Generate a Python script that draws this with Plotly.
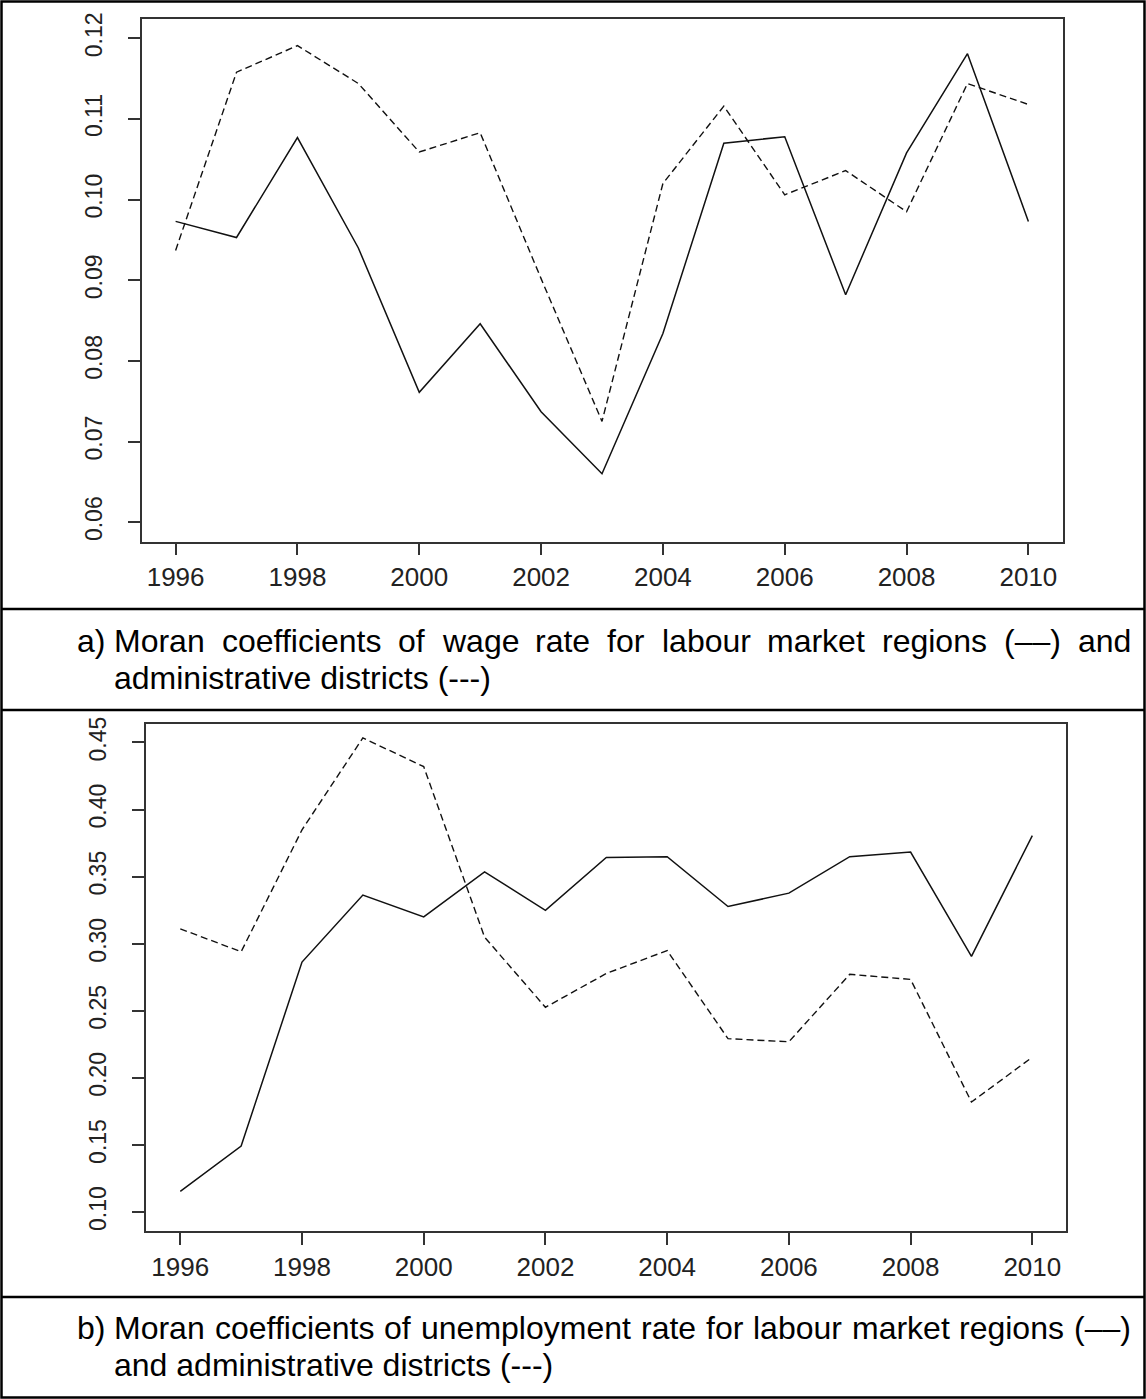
import plotly.graph_objects as go

# ---------------- data ----------------
years = [1996, 1997, 1998, 1999, 2000, 2001, 2002, 2003, 2004, 2005, 2006, 2007, 2008, 2009, 2010]

wage_lmr = [0.0973, 0.0953, 0.1077, 0.0940, 0.0761, 0.0846, 0.0737, 0.0660,
            0.0834, 0.1070, 0.1078, 0.0882, 0.1058, 0.1181, 0.0973]
wage_ad = [0.0937, 0.1158, 0.1191, 0.1144, 0.1059, 0.1083, 0.0902, 0.0725,
           0.1020, 0.1116, 0.1006, 0.1036, 0.0985, 0.1144, 0.1118]

unemp_lmr = [0.1154, 0.1492, 0.2863, 0.3363, 0.3200, 0.3535, 0.3249, 0.3643,
             0.3649, 0.3277, 0.3377, 0.3649, 0.3683, 0.2906, 0.3806]
unemp_ad = [0.3111, 0.2940, 0.3849, 0.4534, 0.4320, 0.3049, 0.2526, 0.2778,
            0.2949, 0.2292, 0.2269, 0.2772, 0.2734, 0.1820, 0.2154]

x_ticks = [1996, 1998, 2000, 2002, 2004, 2006, 2008, 2010]
x_ticktext = ["1996", "1998", "2000", "2002", "2004", "2006", "2008", "2010"]
ya_ticks = [0.06, 0.07, 0.08, 0.09, 0.10, 0.11, 0.12]
ya_ticktext = ["0.06", "0.07", "0.08", "0.09", "0.10", "0.11", "0.12"]
yb_ticks = [0.10, 0.15, 0.20, 0.25, 0.30, 0.35, 0.40, 0.45]
yb_ticktext = ["0.10", "0.15", "0.20", "0.25", "0.30", "0.35", "0.40", "0.45"]

caption_a1 = ["Moran", "coefficients", "of", "wage", "rate", "for", "labour",
              "market", "regions", "(\u2013\u2013)", "and"]
caption_a2 = "administrative districts (---)"
caption_b1 = ["Moran", "coefficients", "of", "unemployment", "rate", "for",
              "labour", "market", "regions", "(\u2013\u2013)"]
caption_b2 = "and administrative districts (---)"

# ---------------- geometry ----------------
W, H = 1146, 1399
def px(x):
    return x / W
def py(y):
    return 1 - y / H

FONT = "Arial, Liberation Sans, sans-serif"
INK = "#111111"

fig = go.Figure()

# panel a
fig.add_trace(go.Scatter(x=years, y=wage_lmr, mode="lines",
                         line=dict(color=INK, width=1.5), xaxis="x", yaxis="y",
                         showlegend=False))
fig.add_trace(go.Scatter(x=years, y=wage_ad, mode="lines",
                         line=dict(color=INK, width=1.4, dash="7px,4px"),
                         xaxis="x", yaxis="y", showlegend=False))
# panel b
fig.add_trace(go.Scatter(x=years, y=unemp_lmr, mode="lines",
                         line=dict(color=INK, width=1.5), xaxis="x2", yaxis="y2",
                         showlegend=False))
fig.add_trace(go.Scatter(x=years, y=unemp_ad, mode="lines",
                         line=dict(color=INK, width=1.4, dash="7px,4px"),
                         xaxis="x2", yaxis="y2", showlegend=False))

axis_common = dict(showgrid=False, zeroline=False, showline=True, mirror=True,
                   linecolor="#333333", linewidth=1.5, ticks="outside",
                   tickcolor="#333333", tickwidth=1.5, ticklen=12,
                   fixedrange=True, automargin=False)

xa = dict(axis_common, tickmode="array", tickvals=x_ticks, ticktext=x_ticktext,
          range=[1995.44, 2010.56],
          tickfont=dict(family=FONT, size=26, color="#222222"),
          ticklabelstandoff=0)

ya_font = dict(family=FONT, size=23, color="#222222")

fig.update_layout(
    width=W, height=H,
    margin=dict(l=0, r=0, t=0, b=0, pad=0, autoexpand=False),
    paper_bgcolor="white", plot_bgcolor="white",
    xaxis=dict(xa, domain=[px(141.5), px(1062.5)], anchor="y"),
    yaxis=dict(axis_common, domain=[py(541.5), py(19)], anchor="x",
               range=[0.0576, 0.1224], tickmode="array", tickvals=ya_ticks,
               ticktext=ya_ticktext, tickangle=-90, ticklabelstandoff=17,
               tickfont=ya_font),
    xaxis2=dict(xa, domain=[px(146.2), px(1066.4)], anchor="y2"),
    yaxis2=dict(axis_common, domain=[py(1230.8), py(723.7)], anchor="x2",
                range=[0.086, 0.464], tickmode="array", tickvals=yb_ticks,
                ticktext=yb_ticktext, tickangle=-90, ticklabelstandoff=17,
                tickfont=ya_font),
)

# ---------------- table borders ----------------
bw = 2.5
shapes = [
    dict(type="rect", xref="paper", yref="paper",
         x0=px(1.5), x1=px(1144.5), y0=py(1397.5), y1=py(1.5),
         line=dict(color="black", width=bw)),
]
for yy in [609, 710, 1297]:
    shapes.append(dict(type="line", xref="paper", yref="paper",
                       x0=px(1.5), x1=px(1144.5), y0=py(yy), y1=py(yy),
                       line=dict(color="black", width=bw)))
fig.update_layout(shapes=shapes)

# ---------------- captions (justified via Arial metrics) ----------------
ARIAL = {' ': 278, 'a': 556, 'b': 556, 'c': 500, 'd': 556, 'e': 556, 'f': 278,
         'g': 556, 'h': 556, 'i': 222, 'j': 222, 'k': 500, 'l': 222, 'm': 833,
         'n': 556, 'o': 556, 'p': 556, 'q': 556, 'r': 333, 's': 500, 't': 278,
         'u': 556, 'v': 500, 'w': 722, 'x': 500, 'y': 500, 'z': 500, 'M': 833,
         '(': 333, ')': 333, '\u2013': 556, '-': 333}
CAP = 32

def text_w(s):
    return sum(ARIAL.get(c, 556) for c in s) * CAP / 1000.0

anns = []
def add_text(x, y, s):
    anns.append(dict(x=px(x), y=py(y), xref="paper", yref="paper", text=s,
                     showarrow=False, xanchor="left", yanchor="middle",
                     font=dict(family=FONT, size=CAP, color="black"),
                     borderpad=0))

def justified(words, x0, x1, y):
    widths = [text_w(w) for w in words]
    gap = (x1 - x0 - sum(widths)) / (len(words) - 1)
    x = x0
    for w, wd in zip(words, widths):
        add_text(x, y, w)
        x += wd + gap

add_text(76, 641, "a)")
justified(caption_a1, 113, 1130, 641)
add_text(113, 678, caption_a2)

add_text(76, 1328, "b)")
justified(caption_b1, 113, 1130, 1328)
add_text(113, 1365, caption_b2)

fig.update_layout(annotations=anns)

post = (
    "var de=document.documentElement,b=document.body;"
    "de.style.margin='0';de.style.padding='0';"
    "b.style.margin='0';b.style.padding='0';b.style.overflow='hidden';"
    "var g=document.getElementsByClassName('plotly-graph-div')[0];"
    "g.style.position='absolute';g.style.top='0px';g.style.left='0px';"
)

fig.write_html("out.html", config={"displayModeBar": False}, post_script=post)
